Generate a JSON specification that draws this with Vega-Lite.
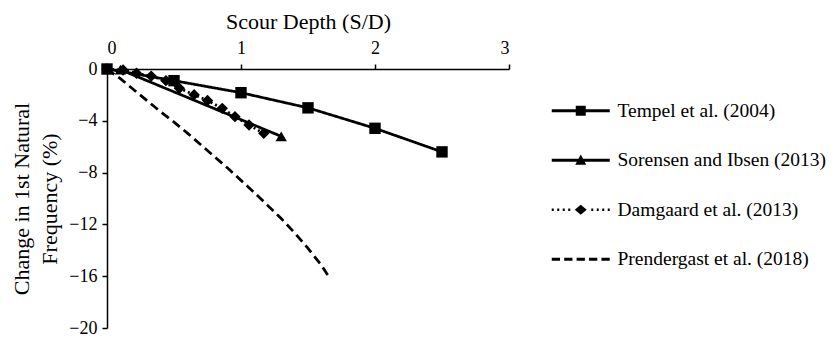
{
  "$schema": "https://vega.github.io/schema/vega-lite/v6.json",
  "width": 402,
  "height": 259,
  "autosize": "none",
  "padding": {"left": 107, "top": 69, "right": 324, "bottom": 13},
  "background": "white",
  "config": {
    "view": {"stroke": null},
    "font": "Liberation Serif, DejaVu Serif, serif",
    "axis": {
      "domainColor": "black",
      "domainWidth": 1.5,
      "tickColor": "black",
      "tickWidth": 1.5,
      "tickSize": 5,
      "labelColor": "black",
      "labelFont": "Liberation Serif, DejaVu Serif, serif",
      "labelFontSize": 18,
      "titleColor": "black",
      "titleFont": "Liberation Serif, DejaVu Serif, serif",
      "titleFontSize": 22,
      "titleFontWeight": "normal",
      "grid": false
    }
  },
  "datasets": {
    "curves": [
      {"series": "Tempel et al. (2004)", "x": 0, "y": 0},
      {"series": "Tempel et al. (2004)", "x": 0.5, "y": -0.9},
      {"series": "Tempel et al. (2004)", "x": 1.0, "y": -1.83},
      {"series": "Tempel et al. (2004)", "x": 1.5, "y": -3.0},
      {"series": "Tempel et al. (2004)", "x": 2.0, "y": -4.58},
      {"series": "Tempel et al. (2004)", "x": 2.5, "y": -6.4},
      {"series": "Sorensen and Ibsen (2013)", "x": 0.1, "y": -0.05},
      {"series": "Sorensen and Ibsen (2013)", "x": 1.3, "y": -5.2},
      {"series": "Damgaard et al. (2013)", "x": 0, "y": 0},
      {"series": "Damgaard et al. (2013)", "x": 0.12, "y": -0.08},
      {"series": "Damgaard et al. (2013)", "x": 0.22, "y": -0.33},
      {"series": "Damgaard et al. (2013)", "x": 0.33, "y": -0.55},
      {"series": "Damgaard et al. (2013)", "x": 0.44, "y": -0.9},
      {"series": "Damgaard et al. (2013)", "x": 0.54, "y": -1.49},
      {"series": "Damgaard et al. (2013)", "x": 0.65, "y": -1.98},
      {"series": "Damgaard et al. (2013)", "x": 0.75, "y": -2.43},
      {"series": "Damgaard et al. (2013)", "x": 0.86, "y": -3.04},
      {"series": "Damgaard et al. (2013)", "x": 0.955, "y": -3.68},
      {"series": "Damgaard et al. (2013)", "x": 1.06, "y": -4.32},
      {"series": "Damgaard et al. (2013)", "x": 1.17, "y": -4.97},
      {"series": "Prendergast et al. (2018)", "x": 0, "y": 0},
      {"series": "Prendergast et al. (2018)", "x": 0.1, "y": -0.75},
      {"series": "Prendergast et al. (2018)", "x": 0.2, "y": -1.6},
      {"series": "Prendergast et al. (2018)", "x": 0.3, "y": -2.45},
      {"series": "Prendergast et al. (2018)", "x": 0.4, "y": -3.3},
      {"series": "Prendergast et al. (2018)", "x": 0.5, "y": -4.1},
      {"series": "Prendergast et al. (2018)", "x": 0.6, "y": -4.95},
      {"series": "Prendergast et al. (2018)", "x": 0.7, "y": -5.85},
      {"series": "Prendergast et al. (2018)", "x": 0.8, "y": -6.75},
      {"series": "Prendergast et al. (2018)", "x": 0.9, "y": -7.65},
      {"series": "Prendergast et al. (2018)", "x": 1.0, "y": -8.6},
      {"series": "Prendergast et al. (2018)", "x": 1.1, "y": -9.55},
      {"series": "Prendergast et al. (2018)", "x": 1.2, "y": -10.55},
      {"series": "Prendergast et al. (2018)", "x": 1.3, "y": -11.55},
      {"series": "Prendergast et al. (2018)", "x": 1.4, "y": -12.65},
      {"series": "Prendergast et al. (2018)", "x": 1.5, "y": -13.85},
      {"series": "Prendergast et al. (2018)", "x": 1.6, "y": -15.15},
      {"series": "Prendergast et al. (2018)", "x": 1.65, "y": -15.95}
    ]
  },
  "data": {"name": "curves"},
  "encoding": {
    "x": {
      "field": "x",
      "type": "quantitative",
      "scale": {"domain": [0, 3], "nice": false, "zero": false},
      "axis": {
        "orient": "top",
        "values": [0, 1, 2, 3],
        "format": "d",
        "labelPadding": 7,
        "title": "Scour Depth (S/D)",
        "titlePadding": 6
      }
    },
    "y": {
      "field": "y",
      "type": "quantitative",
      "scale": {"domain": [-20, 0], "nice": false},
      "axis": {
        "orient": "left",
        "values": [0, -4, -8, -12, -16, -20],
        "format": "d",
        "labelPadding": 5,
        "title": ["Change in  1st Natural", "Frequency (%)"],
        "titleLineHeight": 28,
        "titlePadding": 7
      }
    }
  },
  "layer": [
    {
      "mark": {"type": "line", "color": "black", "strokeWidth": 2.75, "clip": false},
      "encoding": {
        "detail": {"field": "series"},
        "strokeDash": {
          "field": "series",
          "type": "nominal",
          "scale": {
            "domain": ["Tempel et al. (2004)", "Sorensen and Ibsen (2013)", "Damgaard et al. (2013)", "Prendergast et al. (2018)"],
            "range": [[1, 0], [1, 0], [2, 3], [9, 5]]
          },
          "legend": null
        }
      }
    },
    {
      "transform": [{"filter": "datum.series !== 'Prendergast et al. (2018)'"}],
      "mark": {"type": "point", "filled": true, "color": "black", "opacity": 1, "size": 130, "clip": false},
      "encoding": {
        "shape": {
          "field": "series",
          "type": "nominal",
          "scale": {
            "domain": ["Tempel et al. (2004)", "Sorensen and Ibsen (2013)", "Damgaard et al. (2013)"],
            "range": ["square", "triangle-up", "diamond"]
          },
          "legend": null
        }
      }
    },
    {
      "transform": [{"filter": "false"}],
      "mark": {"type": "point", "filled": true, "color": "black", "opacity": 1, "size": 144},
      "encoding": {
        "shape": {
          "field": "series",
          "type": "nominal",
          "scale": {
            "domain": ["Tempel et al. (2004)", "Sorensen and Ibsen (2013)", "Damgaard et al. (2013)", "Prendergast et al. (2018)"],
            "range": [
              "M-4.833,-0.25H4.833V0.25H-4.833ZM-0.833,-0.833H0.833V0.833H-0.833Z",
              "M-4.833,-0.25H4.833V0.25H-4.833ZM0,-0.95L0.92,0.75L-0.92,0.75Z",
              "M-4.833,-0.208H-4.5V0.208H-4.833ZM-3.917,-0.208H-3.583V0.208H-3.917ZM-3,-0.208H-2.667V0.208H-3ZM-2.083,-0.208H-1.75V0.208H-2.083ZM1.75,-0.208H2.083V0.208H1.75ZM2.667,-0.208H3V0.208H2.667ZM3.583,-0.208H3.917V0.208H3.583ZM4.5,-0.208H4.833V0.208H4.5ZM0,-0.83L1,0L0,0.83L-1,0Z",
              "M-4.833,-0.25H-3.453V0.25H-4.833ZM-2.763,-0.25H-1.383V0.25H-2.763ZM-0.69,-0.25H0.69V0.25H-0.69ZM1.383,-0.25H2.763V0.25H1.383ZM3.453,-0.25H4.833V0.25H3.453Z"
            ]
          },
          "legend": {
            "orient": "none",
            "legendX": 464,
            "legendY": 32,
            "title": null,
            "padding": 0,
            "symbolSize": 144,
            "symbolFillColor": "black",
            "symbolOpacity": 1,
            "labelFont": "Liberation Serif, DejaVu Serif, serif",
            "labelFontSize": 19.5,
            "labelColor": "black",
            "labelOffset": 27,
            "labelLimit": 400,
            "rowPadding": 28.5
          }
        }
      }
    }
  ],
  "resolve": {"scale": {"shape": "independent"}, "legend": {"shape": "independent"}}
}
